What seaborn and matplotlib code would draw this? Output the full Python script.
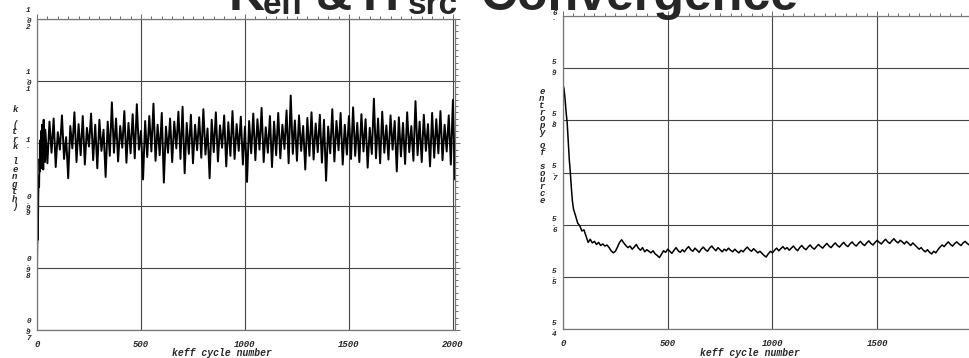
import numpy as np
import pandas as pd
import seaborn as sns
import matplotlib.pyplot as plt
from matplotlib.ticker import MultipleLocator

# keff per cycle (first cycles every 2, then every 10)
keff_cycles = list(range(0, 40, 2)) + list(range(40, 2011, 10))
keff = [0.9800, 0.9870, 0.9845, 0.9915, 0.9948, 0.9930, 0.9975, 0.9955, 1.0005, 0.9965,
        1.0020, 0.9960, 1.0030, 0.9972, 1.0025, 0.9958, 1.0038, 0.9980, 1.0015, 0.9970,
        1.0022, 0.9968, 1.0035, 0.9985, 1.0040, 0.9962, 1.0018, 0.9990, 1.0045, 0.9975,
        1.0010, 0.9944, 1.0028, 0.9992, 1.0050, 0.9970, 1.0031, 0.9981, 1.0044, 0.9966,
        1.0025, 0.9995, 1.0048, 0.9973, 1.0030, 0.9960, 1.0038, 0.9988, 1.0022, 0.9946,
        1.0035, 0.9980, 1.0066, 0.9985, 1.0040, 0.9971, 1.0028, 0.9993, 1.0052, 0.9969,
        1.0033, 0.9984, 1.0047, 0.9976, 1.0063, 0.9990, 1.0020, 0.9942, 1.0036, 0.9978,
        1.0044, 0.9987, 1.0064, 0.9972, 1.0030, 0.9981, 1.0049, 0.9937, 1.0027, 0.9985,
        1.0040, 0.9970, 1.0035, 0.9992, 1.0051, 0.9975, 1.0059, 0.9952, 1.0033, 0.9983,
        1.0046, 0.9968, 1.0030, 0.9989, 1.0042, 0.9977, 1.0055, 0.9982, 1.0024, 0.9944,
        1.0038, 0.9986, 1.0050, 0.9971, 1.0029, 0.9993, 1.0045, 0.9963, 1.0034, 0.9980,
        1.0052, 0.9975, 1.0031, 0.9988, 1.0043, 0.9966, 1.0027, 0.9938, 1.0036, 0.9984,
        1.0048, 0.9973, 1.0039, 0.9990, 1.0057, 0.9970, 1.0026, 0.9985, 1.0044, 0.9962,
        1.0035, 0.9981, 1.0049, 0.9976, 1.0030, 0.9991, 1.0053, 0.9968, 1.0077, 0.9983,
        1.0037, 0.9972, 1.0045, 0.9988, 1.0028, 0.9958, 1.0041, 0.9980, 1.0050, 0.9974,
        1.0032, 0.9986, 1.0046, 0.9969, 1.0038, 0.9940, 1.0027, 0.9984, 1.0055, 0.9971,
        1.0036, 0.9989, 1.0049, 0.9966, 1.0030, 0.9982, 1.0044, 0.9975, 1.0058, 0.9980,
        1.0033, 0.9970, 1.0047, 0.9987, 1.0039, 0.9961, 1.0025, 0.9983, 1.0072, 0.9976,
        1.0040, 0.9968, 1.0051, 0.9985, 1.0029, 0.9974, 1.0045, 0.9990, 1.0036, 0.9955,
        1.0042, 0.9979, 1.0033, 0.9967, 1.0050, 0.9986, 1.0028, 0.9972, 1.0068, 0.9981,
        1.0035, 0.9970, 1.0046, 0.9988, 1.0031, 0.9963, 1.0049, 0.9977, 1.0039, 0.9984,
        1.0052, 0.9973, 1.0030, 0.9987, 1.0045, 0.9966, 1.0070, 0.9942]

# Shannon entropy of the fission source (first cycles every 5, then every 10)
src_cycles = list(range(0, 50, 5)) + list(range(50, 2011, 10))
entropy = [5.868, 5.860, 5.840, 5.815, 5.795, 5.760, 5.725, 5.700, 5.670, 5.645,
           5.630, 5.617, 5.603, 5.598, 5.588, 5.590, 5.578, 5.566, 5.572, 5.565,
           5.568, 5.562, 5.566, 5.560, 5.563, 5.559, 5.561, 5.556, 5.550, 5.546,
           5.549, 5.557, 5.566, 5.571, 5.565, 5.560, 5.556, 5.559, 5.553, 5.557,
           5.562, 5.555, 5.551, 5.556, 5.548, 5.552, 5.549, 5.546, 5.550, 5.544,
           5.541, 5.537, 5.543, 5.550, 5.547, 5.553, 5.549, 5.545, 5.551, 5.556,
           5.550, 5.547, 5.552, 5.548, 5.554, 5.558, 5.552, 5.549, 5.555, 5.551,
           5.547, 5.553, 5.557, 5.552, 5.549, 5.555, 5.559, 5.554, 5.550, 5.556,
           5.552, 5.548, 5.553, 5.550, 5.555, 5.551, 5.548, 5.553, 5.549, 5.546,
           5.551, 5.548, 5.553, 5.557, 5.552, 5.549, 5.554, 5.550, 5.546, 5.549,
           5.545, 5.541, 5.538, 5.544, 5.549, 5.546, 5.551, 5.555, 5.550, 5.554,
           5.558, 5.553, 5.556, 5.551, 5.555, 5.559, 5.554, 5.550, 5.556, 5.560,
           5.555, 5.552, 5.557, 5.561, 5.556, 5.553, 5.558, 5.562, 5.558, 5.555,
           5.560, 5.564, 5.559, 5.556, 5.561, 5.565, 5.560, 5.557, 5.562, 5.566,
           5.561, 5.558, 5.563, 5.567, 5.562, 5.559, 5.564, 5.568, 5.563, 5.560,
           5.565, 5.569, 5.564, 5.561, 5.566, 5.570, 5.566, 5.563, 5.568, 5.572,
           5.567, 5.564, 5.569, 5.573, 5.568, 5.565, 5.570, 5.567, 5.563, 5.568,
           5.564, 5.560, 5.565, 5.561, 5.557, 5.553, 5.556, 5.551, 5.548, 5.552,
           5.547, 5.544, 5.549, 5.546, 5.552, 5.557, 5.561, 5.558, 5.563, 5.567,
           5.562, 5.559, 5.564, 5.567, 5.563, 5.560, 5.565, 5.568, 5.564, 5.561,
           5.566, 5.563, 5.560, 5.564, 5.567, 5.563, 5.561]

keff_ticks = [0.97, 0.98, 0.99, 1.00, 1.01, 1.02]
keff_labels = ["0.97", "0.98", "0.99", "1.", "1.01", "1.02"]
src_ticks = [5.4, 5.5, 5.6, 5.7, 5.8, 5.9, 6.0]
src_labels = ["5.4", "5.5", "5.6", "5.7", "5.8", "5.9", "6."]
x_ticks = [0, 500, 1000, 1500, 2000]

sns.set_style("white")
plt.rcParams['font.family'] = ['Liberation Mono', 'DejaVu Sans']

W, H = 970, 358
fig = plt.figure(figsize=(W / 100, H / 100), dpi=100)

def px_axes(l, t, r, b):
    return fig.add_axes([l / W, 1 - b / H, (r - l) / W, (b - t) / H])

mono = dict(family='Liberation Mono', weight='bold', style='italic')

def style_axes(ax, xmax, ymin, ymax, yticks, ylabels, yminor):
    ax.set_xlim(0, xmax)
    ax.set_ylim(ymin, ymax)
    ax.set_xticks([t for t in x_ticks if t <= xmax])
    ax.set_xticklabels([str(t) for t in x_ticks if t <= xmax], fontsize=6.5, **mono)
    ax.set_yticks(yticks)
    ax.set_yticklabels(["\n".join(s) for s in ylabels], fontsize=5.5,
                       linespacing=0.72, multialignment='center', va='center', **mono)
    ax.xaxis.set_minor_locator(MultipleLocator(50))
    ax.yaxis.set_minor_locator(MultipleLocator(yminor))
    ax.tick_params(which='both', direction='out', top=True, right=True,
                   color='#555555', width=0.6)
    ax.tick_params(which='major', length=3.5)
    ax.tick_params(which='minor', length=2.2)
    ax.tick_params(axis='x', which='major', pad=4)
    ax.tick_params(axis='y', which='major', pad=1)
    ax.grid(True, which='major', color='#444444', linewidth=0.8)
    for sp in ax.spines.values():
        sp.set_color('#777777')
        sp.set_linewidth(0.9)
    ax.set_xlabel("")
    ax.set_ylabel("")

ax1 = px_axes(37, 19, 455, 330)
sns.lineplot(x=keff_cycles, y=keff, ax=ax1, color='black', linewidth=1.4,
             estimator=None, sort=False)
style_axes(ax1, 2010, 0.97, 1.02, keff_ticks, keff_labels, 0.001)

ax2 = px_axes(563, 16, 984, 329)
sns.lineplot(x=src_cycles, y=entropy, ax=ax2, color='black', linewidth=1.1,
             estimator=None, sort=False)
style_axes(ax2, 2010, 5.4, 6.0, src_ticks, src_labels, 0.01)

# stacked axis labels
fig.text(15 / W, 1 - 158 / H, "\n".join("k (trk length)"), ha='center', va='center',
         fontsize=6.5, linespacing=0.78, **mono)
fig.text(542 / W, 1 - 146 / H, "\n".join("entropy of source"), ha='center', va='center',
         fontsize=6.5, linespacing=0.68, **mono)
fig.text(222 / W, 1 - 353 / H, "keff cycle number", ha='center', va='center',
         fontsize=7, **mono)
fig.text(750 / W, 1 - 353 / H, "keff cycle number", ha='center', va='center',
         fontsize=7, **mono)

# title, mostly clipped off the top of the image
sans = dict(family='Liberation Sans', weight='bold', va='baseline', ha='left')
title_parts = [("K", 229, 10, 36), ("eff", 263, 14, 24), ("&", 316, 10, 36),
               ("H", 363, 10, 36), ("src", 408, 14, 24), ("Convergence", 481, 10, 36)]
for txt, x, y, fs in title_parts:
    fig.text(x / W, 1 - y / H, txt, fontsize=fs, **sans)

fig.savefig("out.png", dpi=100)
